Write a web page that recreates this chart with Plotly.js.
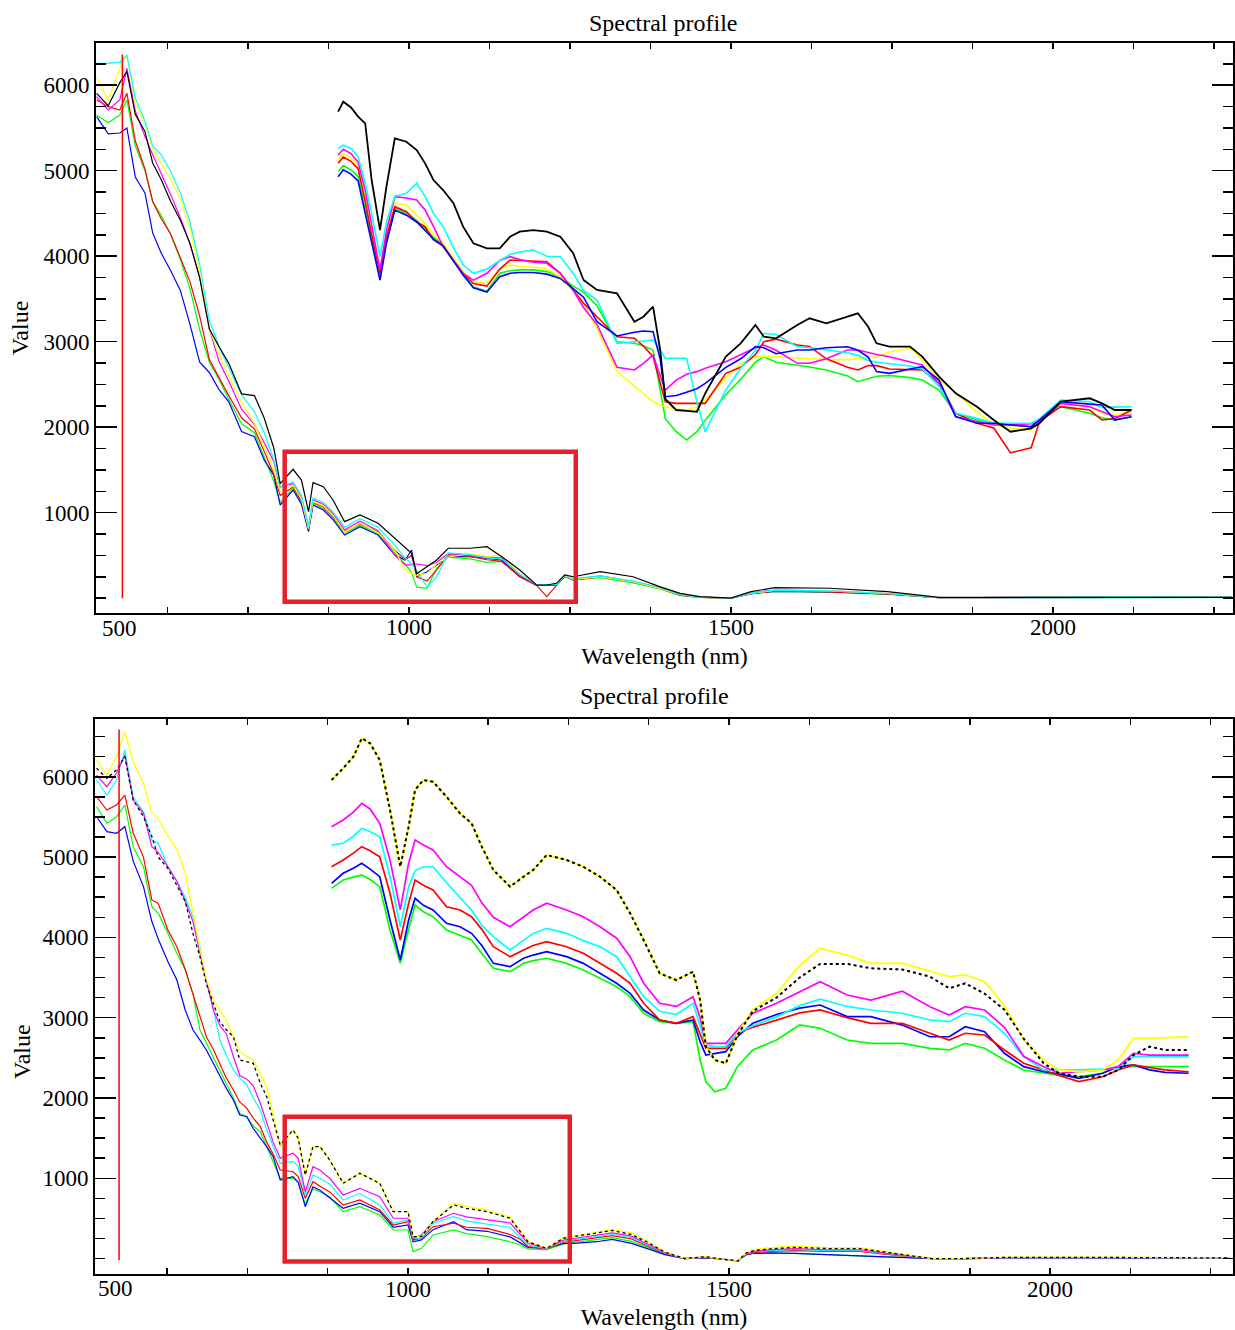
<!DOCTYPE html>
<html>
<head>
<meta charset="utf-8">
<script src="https://cdn.plot.ly/plotly-3.0.1.min.js"></script>
<style>html,body{margin:0;padding:0;background:#fff;}#chart{width:1235px;height:1330px;}</style>
</head>
<body>
<div id="chart"></div>
<script>
// ---------------- DATA ----------------
const seriesColors = {black:'#000000', yellow:'#ffff00', cyan:'#00ffff', magenta:'#ff00ff', red:'#ff0000', blue:'#0000ff', green:'#00ff00'};
const xTickVals = [1000, 1500, 2000];
const xTickText = ['1000', '1500', '2000'];
const yTickVals = [1000, 2000, 3000, 4000, 5000, 6000];
const yTickText = ['1000', '2000', '3000', '4000', '5000', '6000'];
const firstXLabel = '500';
const chartTitle = 'Spectral profile';
const xTitle = 'Wavelength (nm)';
const yTitle = 'Value';

// Top panel: full spectra
const topLowWl = [515,533,551,562,575,590,602,615,630,645,660,675,690,705,720,740,760,775,790,800,820,833,844,851,867,882,900,924,952,978,994,1004,1012,1028,1043,1061,1095,1121,1144,1172,1198,1214,1229,1242,1255,1297,1348,1389,1421,1452,1500,1531,1568,1653,1743,1823,1950,2100,2278];
const topLowBlack   = [5905,5760,6030,6158,5660,5460,5090,4900,4640,4420,4150,3750,3150,2940,2750,2390,2370,2110,1760,1340,1508,1382,1012,1351,1304,1149,895,973,876,701,584,525,285,368,447,584,584,602,485,330,154,154,174,271,251,310,251,135,57,18,0,76,123,116,76,10,10,15,10];
const topLowBlue    = [5632,5430,5441,5500,4927,4740,4272,4040,3830,3600,3200,2760,2640,2440,2300,1950,1889,1620,1440,1090,1265,1100,778,1090,1032,920,739,836,739,505,447,564,251,310,389,485,485,467,447,251,154,154,154,251,213,251,193,120,37,11,0,50,80,75,50,5,8,12,8];
const topLowGreen   = [5651,5560,5651,5827,5290,5000,4640,4480,4250,3960,3620,3140,2760,2560,2330,2040,1935,1660,1370,1120,1290,1120,800,1110,1050,940,760,850,760,530,400,300,130,116,350,480,460,420,430,260,150,150,150,260,220,240,180,110,30,10,0,55,80,70,45,5,8,12,8];
const topLowRed     = [5830,5749,5710,5905,5350,5020,4640,4440,4260,3990,3700,3300,2790,2580,2370,2110,1980,1720,1450,1200,1300,1140,820,1120,1070,960,780,870,780,560,450,500,250,200,330,510,490,450,430,250,150,18,150,260,210,250,190,115,35,10,0,55,85,75,50,5,10,15,10];
const topLowMagenta = [5866,5710,5827,6197,5700,5400,5190,4980,4720,4450,4140,3750,3150,2770,2540,2210,2030,1820,1600,1300,1340,1180,830,1150,1100,990,800,900,790,500,389,389,400,380,420,520,500,480,470,270,154,154,160,260,220,260,195,120,40,12,0,60,95,85,55,5,10,15,10];
const topLowYellow  = [6100,5827,6200,6353,5790,5550,5250,5090,4900,4670,4330,3800,3150,2850,2600,2290,2040,1780,1500,1250,1320,1160,810,1130,1080,970,770,880,770,560,330,290,270,290,400,480,520,490,500,290,160,160,160,260,220,250,190,115,40,12,0,55,90,85,55,5,12,15,10];
const topLowCyan    = [6256,6256,6270,6353,5850,5580,5290,5190,4990,4740,4400,3900,3250,2950,2700,2380,2180,1940,1620,1300,1360,1200,840,1170,1120,1010,830,930,830,620,470,400,330,130,250,530,510,470,460,280,160,160,160,270,230,260,200,125,40,12,0,60,95,85,55,5,12,15,12];

// Top panel: enlarged profile drawn over the chart
const topUpWl = [890,898,910,921,932,942,955,965,978,996,1012,1025,1038,1053,1069,1084,1100,1121,1141,1157,1172,1193,1214,1235,1255,1271,1292,1323,1350,1364,1379,1390,1398,1415,1431,1447,1460,1492,1515,1538,1551,1570,1603,1622,1648,1681,1697,1713,1726,1746,1778,1797,1823,1849,1882,1908,1934,1966,1979,2012,2057,2076,2096,2122];
const topUpBlack   = [5690,5807,5740,5632,5554,4891,4306,4813,5379,5339,5242,5086,4891,4774,4619,4345,4151,4092,4092,4228,4287,4306,4287,4228,4034,3722,3605,3566,3234,3292,3409,2903,2330,2201,2190,2181,2396,2825,2981,3195,3058,3040,3195,3274,3215,3292,3332,3175,2981,2942,2942,2825,2591,2396,2240,2084,1947,1987,2046,2298,2338,2279,2201,2201];
const topUpBlue    = [4930,5010,4960,4880,4500,4150,3720,4150,4540,4480,4400,4300,4200,4120,3950,3780,3630,3580,3760,3800,3810,3810,3790,3740,3620,3520,3234,3067,3110,3125,3117,2800,2357,2370,2410,2450,2513,2700,2800,2942,2930,2860,2903,2903,2930,2940,2900,2820,2650,2630,2680,2708,2552,2123,2046,2046,2026,2006,2084,2298,2270,2260,2084,2123];
const topUpGreen   = [4990,5060,5010,4930,4550,4200,3750,4180,4560,4500,4420,4320,4220,4140,3960,3790,3640,3590,3800,3830,3840,3840,3820,3760,3650,3580,3420,3000,2981,2950,2903,2435,2100,1947,1850,1947,2080,2380,2560,2760,2825,2760,2727,2705,2670,2600,2532,2570,2595,2605,2580,2552,2435,2162,2084,2050,2030,2006,2084,2240,2162,2110,2084,2123];
const topUpRed     = [5086,5160,5110,5020,4640,4250,3800,4220,4579,4520,4400,4345,4190,4120,3950,3800,3680,3650,3850,3955,3950,3940,3936,3800,3600,3450,3292,3058,3040,2950,2825,2500,2298,2279,2279,2279,2279,2630,2700,2850,3000,3030,2961,2945,2800,2700,2669,2720,2720,2680,2669,2669,2513,2162,2046,1990,1700,1760,2065,2240,2201,2084,2100,2201];
const topUpMagenta = [5184,5250,5200,5100,4774,4350,3839,4300,4696,4680,4657,4540,4350,4111,3950,3800,3720,3800,3950,3994,3960,3930,3917,3800,3600,3400,3200,2700,2669,2747,2844,2600,2435,2550,2620,2650,2689,2766,2850,2930,2961,2900,2747,2747,2800,2903,2903,2870,2850,2825,2760,2727,2513,2123,2065,2026,2026,2040,2060,2279,2240,2180,2123,2143];
const topUpYellow  = [5125,5200,5150,5060,4700,4300,3800,4250,4620,4600,4480,4380,4250,4150,3980,3820,3700,3680,3850,3900,3880,3870,3850,3760,3600,3450,3150,2650,2480,2396,2300,2260,2240,2215,2201,2240,2320,2580,2740,2825,2825,2825,2810,2800,2790,2790,2800,2806,2820,2880,2923,2786,2560,2400,2180,2030,1990,1967,2084,2279,2240,2162,2140,2181];
const topUpCyan    = [5262,5300,5260,5164,4850,4500,3994,4400,4700,4736,4853,4700,4500,4345,4100,3900,3800,3850,3950,4020,4050,4073,4000,3994,3800,3600,3488,2981,3000,3010,3020,2900,2806,2806,2806,2300,1947,2435,2690,2900,3098,3085,2942,2930,2900,2870,2840,2780,2760,2740,2715,2680,2480,2162,2104,2046,2046,2046,2100,2318,2298,2230,2235,2240];

// Bottom panel: full spectra
const botLowWl = [515,531,546,559,572,588,601,611,626,640,653,665,676,686,697,707,717,728,738,749,759,770,780,790,801,821,829,840,852,863,878,899,925,956,977,1000,1008,1021,1039,1071,1091,1123,1159,1175,1187,1216,1242,1258,1294,1318,1348,1374,1400,1431,1463,1482,1514,1526,1539,1564,1602,1652,1703,1741,1778,1816,1866,1930,2056,2180,2280];
const botLowYellow  = [6209,6022,6250,6562,6188,5919,5550,5480,5260,5100,4800,4300,3860,3480,3220,3100,2971,2760,2580,2520,2473,2300,2141,1800,1394,1601,1498,1041,1394,1394,1228,938,1062,938,584,584,273,273,460,689,650,605,520,345,215,130,260,280,325,360,320,210,86,0,24,0,-30,66,110,135,155,135,135,90,45,0,0,18,18,18,10];
const botLowBlack   = [6106,5981,6085,6250,5711,5503,5260,5000,4860,4640,4450,4050,3760,3420,3179,2950,2850,2763,2473,2450,2432,2183,2016,1726,1415,1601,1498,1041,1394,1394,1228,938,1062,938,584,584,273,273,460,667,626,584,502,335,210,128,253,273,315,350,300,200,80,0,24,0,-30,66,100,120,140,125,125,80,40,0,0,15,15,15,8];
const botLowMagenta = [6022,5877,6047,6271,5711,5545,5130,5060,4880,4700,4450,4200,3800,3450,3096,2900,2800,2520,2280,2235,2150,1934,1700,1450,1250,1311,1250,833,1145,1100,1000,792,875,771,502,502,253,294,460,564,520,481,445,300,190,128,230,250,290,320,280,180,75,0,20,0,-30,55,90,110,125,110,110,70,35,0,0,12,12,12,8];
const botLowCyan    = [5960,5773,5960,6334,5752,5566,5213,5172,4880,4700,4500,4250,3884,3450,3096,2722,2530,2349,2250,2162,2000,1851,1600,1400,1187,1207,1150,792,1041,1000,930,730,813,667,440,481,253,253,440,522,470,430,390,260,169,125,215,235,275,300,260,170,70,0,18,0,-30,55,85,100,115,100,100,65,30,0,0,10,10,10,6];
const botLowRed     = [5752,5586,5649,5773,5300,5000,4466,4424,4092,3884,3600,3300,3000,2763,2600,2432,2250,2100,1950,1871,1750,1643,1450,1300,1103,1082,1020,751,958,900,830,667,730,605,418,460,232,253,397,440,390,377,300,240,148,120,200,220,260,285,245,160,65,0,15,0,-30,50,75,90,100,90,90,55,25,0,0,8,8,8,5];
const botLowGreen   = [5627,5420,5503,5649,5130,4880,4382,4300,4051,3802,3600,3300,2847,2680,2514,2350,2183,2000,1809,1767,1650,1581,1394,1200,1000,1000,950,680,870,830,770,584,646,543,356,356,86,128,294,356,310,273,210,169,120,110,180,200,240,260,215,140,55,0,12,0,-30,45,66,66,66,50,32,20,16,0,0,5,5,5,3];
const botLowBlue    = [5503,5317,5296,5379,4950,4632,4200,3980,3700,3469,3096,2850,2720,2598,2430,2265,2120,1975,1788,1767,1620,1500,1394,1269,979,1020,950,646,895,850,760,626,689,584,390,418,210,232,360,460,360,340,270,200,140,128,190,190,210,240,190,120,50,0,10,0,-30,45,66,70,66,50,35,20,16,0,0,5,5,5,3];

// Bottom panel: enlarged profile drawn over the chart
const botUpWl = [881,899,915,928,941,956,972,988,1001,1011,1024,1039,1060,1081,1099,1115,1133,1159,1180,1195,1216,1247,1273,1299,1325,1346,1367,1392,1418,1444,1455,1464,1478,1495,1513,1537,1574,1610,1642,1684,1721,1770,1813,1843,1868,1898,1929,1959,1990,2014,2045,2082,2106,2130,2155,2179,2216];
const botUpYellow  = [5960,6106,6250,6480,6417,6209,5587,4880,5379,5836,5960,5939,5752,5545,5421,5130,4839,4632,4756,4839,5026,4964,4880,4756,4590,4300,3968,3553,3469,3573,3220,2639,2473,2432,2800,3100,3300,3650,3864,3780,3677,3680,3580,3511,3532,3450,3150,2722,2473,2349,2327,2349,2473,2743,2743,2750,2763];
const botUpBlack   = [5960,6106,6250,6480,6417,6209,5587,4880,5379,5836,5960,5939,5752,5545,5421,5130,4839,4632,4756,4839,5026,4964,4880,4756,4590,4300,3968,3553,3469,3573,3220,2639,2473,2432,2780,3080,3250,3500,3670,3670,3615,3600,3511,3366,3428,3300,3100,2740,2432,2308,2265,2265,2349,2535,2639,2598,2598];
const botUpMagenta = [5379,5462,5560,5670,5600,5421,4964,4342,4923,5213,5150,5088,4880,4756,4650,4430,4250,4133,4258,4340,4425,4342,4258,4133,3990,3760,3430,3180,3140,3262,3000,2681,2681,2681,2847,3055,3179,3320,3448,3283,3220,3330,3137,3034,3137,3096,2880,2520,2390,2308,2330,2349,2390,2557,2535,2535,2535];
const botUpCyan    = [5151,5172,5260,5358,5320,5254,4756,4133,4632,4830,4880,4880,4680,4500,4342,4150,4009,3843,3968,4050,4113,4051,3960,3884,3760,3511,3262,3080,3040,3179,2900,2660,2639,2639,2806,2900,3010,3150,3230,3140,3096,3055,2971,2950,3055,3013,2806,2514,2349,2349,2349,2360,2370,2514,2514,2514,2514];
const botUpRed     = [4880,4964,5050,5130,5080,5005,4549,3968,4424,4715,4650,4590,4382,4342,4258,4100,3884,3760,3843,3900,3947,3884,3802,3677,3553,3428,3179,2971,2930,3013,2800,2619,2619,2619,2806,2880,2970,3060,3096,3000,2930,2930,2806,2722,2806,2785,2598,2432,2349,2280,2204,2265,2349,2411,2380,2350,2327];
const botUpBlue    = [4674,4798,4860,4923,4850,4756,4217,3719,4217,4487,4400,4342,4176,4133,4051,3900,3677,3635,3740,3780,3822,3760,3677,3553,3428,3304,3096,2971,2930,2971,2700,2535,2550,2577,2763,2930,3040,3120,3158,3013,3013,2908,2763,2763,2888,2826,2557,2390,2327,2300,2245,2308,2390,2411,2350,2320,2308];
const botUpGreen   = [4611,4715,4750,4777,4720,4632,4092,3677,4100,4404,4320,4258,4092,4030,3968,3800,3615,3573,3677,3710,3740,3677,3594,3490,3386,3262,3055,2950,2930,2950,2473,2200,2078,2121,2390,2598,2722,2909,2868,2722,2681,2681,2619,2598,2681,2619,2473,2349,2308,2280,2265,2308,2390,2390,2390,2390,2390];

// Markers on the charts (current band line and highlighted region)
const topBandWl = 555, topBandTop = 6360;
const botBandWl = 550, botBandTop = 6590;
const topBox = {x0: 807, x1: 1259, y0: -41, y1: 1713};
const botBox = {x0: 808, x1: 1252, y0: -35, y1: 1767};

// ---------------- CHART ----------------
const FONT = '"Liberation Serif", "Times New Roman", Times, serif';
function tr(x, y, color, xa, ya, width, dash) {
  return {x: x, y: y, type: 'scatter', mode: 'lines', xaxis: xa, yaxis: ya,
    line: {color: color, width: width, dash: dash || 'solid'}, hoverinfo: 'skip', showlegend: false};
}
const C = seriesColors;
const traces = [
  // top, full spectra
  tr(topLowWl, topLowGreen, C.green, 'x', 'y', 1.2),
  tr(topLowWl, topLowBlue, C.blue, 'x', 'y', 1.2),
  tr(topLowWl, topLowRed, C.red, 'x', 'y', 1.2),
  tr(topLowWl, topLowMagenta, C.magenta, 'x', 'y', 1.2),
  tr(topLowWl, topLowYellow, C.yellow, 'x', 'y', 1.2),
  tr(topLowWl, topLowCyan, C.cyan, 'x', 'y', 1.2),
  tr(topLowWl, topLowBlack, C.black, 'x', 'y', 1.2),
  // top, enlarged
  tr(topUpWl, topUpGreen, C.green, 'x', 'y', 1.6),
  tr(topUpWl, topUpYellow, C.yellow, 'x', 'y', 1.6),
  tr(topUpWl, topUpRed, C.red, 'x', 'y', 1.6),
  tr(topUpWl, topUpMagenta, C.magenta, 'x', 'y', 1.6),
  tr(topUpWl, topUpCyan, C.cyan, 'x', 'y', 1.6),
  tr(topUpWl, topUpBlue, C.blue, 'x', 'y', 1.6),
  tr(topUpWl, topUpBlack, C.black, 'x', 'y', 1.8),
  // bottom, full spectra
  tr(botLowWl, botLowGreen, C.green, 'x2', 'y2', 1.2),
  tr(botLowWl, botLowBlue, C.blue, 'x2', 'y2', 1.2),
  tr(botLowWl, botLowRed, C.red, 'x2', 'y2', 1.2),
  tr(botLowWl, botLowCyan, C.cyan, 'x2', 'y2', 1.2),
  tr(botLowWl, botLowMagenta, C.magenta, 'x2', 'y2', 1.2),
  tr(botLowWl, botLowYellow, C.yellow, 'x2', 'y2', 1.3),
  tr(botLowWl, botLowBlack, C.black, 'x2', 'y2', 1.3, 'dot'),
  // bottom, enlarged
  tr(botUpWl, botUpGreen, C.green, 'x2', 'y2', 1.7),
  tr(botUpWl, botUpBlue, C.blue, 'x2', 'y2', 1.7),
  tr(botUpWl, botUpRed, C.red, 'x2', 'y2', 1.7),
  tr(botUpWl, botUpCyan, C.cyan, 'x2', 'y2', 1.7),
  tr(botUpWl, botUpMagenta, C.magenta, 'x2', 'y2', 1.7),
  tr(botUpWl, botUpYellow, C.yellow, 'x2', 'y2', 1.8),
  tr(botUpWl, botUpBlack, C.black, 'x2', 'y2', 2, 'dot')
];

const tickFont = {family: FONT, size: 23, color: '#000'};
const titleFont = {family: FONT, size: 24, color: '#000'};
function xAxis(domain, range, anchor, standoff) {
  return {domain: domain, range: range, anchor: anchor, showline: true, linecolor: '#000', linewidth: 2,
    mirror: 'ticks', ticks: 'inside', ticklen: 6, tickwidth: 1.5, tickcolor: '#000',
    tickmode: 'array', tickvals: xTickVals, ticktext: xTickText, tickfont: tickFont,
    ticklabelstandoff: -7,
    minor: {tickmode: 'linear', tick0: 0, dtick: 125, ticks: 'inside', ticklen: 6, tickwidth: 1.5, tickcolor: '#000', showgrid: false},
    showgrid: false, zeroline: false, fixedrange: true,
    title: {text: xTitle, font: titleFont, standoff: standoff}};
}
function yAxis(domain, range, anchor) {
  return {domain: domain, range: range, anchor: anchor, showline: true, linecolor: '#000', linewidth: 2,
    mirror: 'ticks', ticks: 'inside', ticklen: 21, tickwidth: 1.5, tickcolor: '#000',
    tickmode: 'array', tickvals: yTickVals, ticktext: yTickText, tickfont: tickFont,
    minor: {tickmode: 'linear', tick0: 0, dtick: 250, ticks: 'inside', ticklen: 10, tickwidth: 1.5, tickcolor: '#000', showgrid: false},
    showgrid: false, zeroline: false, fixedrange: true};
}
const yTop = yAxis([0.5393, 0.96744], [-170, 6490], 'x');
yTop.title = {text: yTitle, font: titleFont, standoff: 8};
const yBot = yAxis([0.04211, 0.4594], [-192, 6720], 'x2');

const boxLine = {color: '#e3202b', width: 4.5};
const layout = {
  width: 1235, height: 1330,
  margin: {l: 0, r: 0, t: 0, b: 0},
  paper_bgcolor: '#fff', plot_bgcolor: '#fff',
  showlegend: false, hovermode: false,
  title: {text: chartTitle, font: titleFont, x: 0.537, xanchor: 'center', y: 0.9827, yanchor: 'middle', xref: 'paper', yref: 'paper'},
  xaxis: xAxis([0.07773, 0.99838], [514, 2279.5], 'y', 8),
  yaxis: yTop,
  xaxis2: xAxis([0.07692, 0.99838], [512.5, 2285], 'y2', 14),
  yaxis2: yBot,
  shapes: [
    {type: 'line', xref: 'x', yref: 'y', x0: topBandWl, x1: topBandWl, y0: 0, y1: topBandTop, line: {color: '#ff0000', width: 1.5}},
    {type: 'line', xref: 'x2', yref: 'y2', x0: botBandWl, x1: botBandWl, y0: -20, y1: botBandTop, line: {color: '#ff0000', width: 1.5}},
    {type: 'rect', xref: 'x', yref: 'y', x0: topBox.x0, x1: topBox.x1, y0: topBox.y0, y1: topBox.y1, line: boxLine, fillcolor: 'rgba(0,0,0,0)'},
    {type: 'rect', xref: 'x2', yref: 'y2', x0: botBox.x0, x1: botBox.x1, y0: botBox.y0, y1: botBox.y1, line: boxLine, fillcolor: 'rgba(0,0,0,0)'}
  ],
  annotations: [
    {text: chartTitle, xref: 'paper', yref: 'paper', x: 0.530, y: 1 - 696 / 1330, xanchor: 'center', yanchor: 'middle', showarrow: false, font: titleFont},
    {text: yTitle, xref: 'paper', yref: 'paper', x: 22 / 1235, y: 1 - 1052 / 1330, xanchor: 'center', yanchor: 'middle', textangle: -90, showarrow: false, font: titleFont},
    {text: firstXLabel, xref: 'x', yref: 'paper', x: 551, y: 0.5393, yanchor: 'top', yshift: -1, showarrow: false, font: tickFont},
    {text: firstXLabel, xref: 'x2', yref: 'paper', x: 545, y: 0.04211, yanchor: 'top', yshift: 0, showarrow: false, font: tickFont}
  ]
};

Plotly.newPlot('chart', traces, layout, {staticPlot: true, displayModeBar: false});
</script>
</body>
</html>
